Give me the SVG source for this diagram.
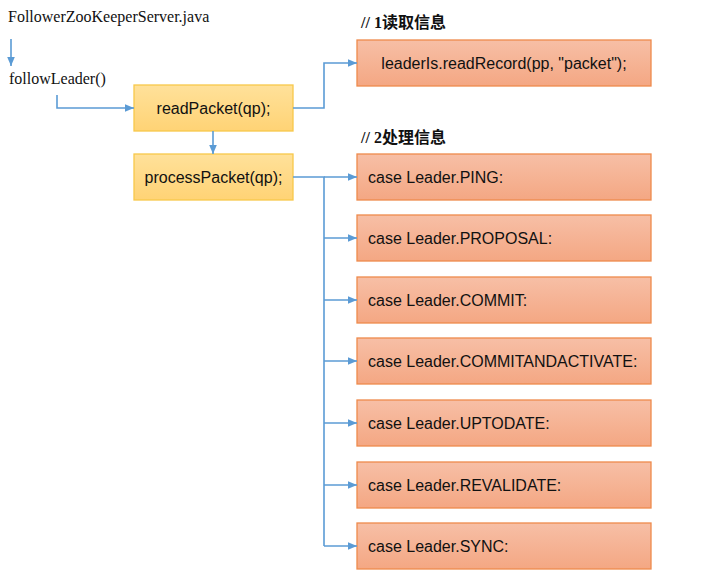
<svg xmlns="http://www.w3.org/2000/svg" width="706" height="576" viewBox="0 0 706 576">
  <defs>
    <linearGradient id="gYellow" x1="0" y1="0" x2="0" y2="1">
      <stop offset="0" stop-color="#FFE19A"/>
      <stop offset="1" stop-color="#FFD375"/>
    </linearGradient>
    <linearGradient id="gOrange" x1="0" y1="0" x2="0" y2="1">
      <stop offset="0" stop-color="#F7BFA6"/>
      <stop offset="1" stop-color="#F4A783"/>
    </linearGradient>
    <marker id="arrow" markerWidth="10" markerHeight="10" refX="9" refY="5" orient="auto" markerUnits="userSpaceOnUse">
      <path d="M0,1.2 L9,5 L0,8.8 Z" fill="#5B9BD5"/>
    </marker>
  </defs>
  <style>
    .yellow { fill: url(#gYellow); stroke: #F8C84A; stroke-width: 1.3; }
    .orange { fill: url(#gOrange); stroke: #EE8A4C; stroke-width: 1.3; }
    .lbl { font-family: "Liberation Sans", Arial, sans-serif; font-size: 16px; fill: #111; }
    .serif { font-family: "Liberation Serif", "Times New Roman", serif; font-size: 16px; fill: #111; }
    .note { font-family: "Liberation Serif", "Noto Sans CJK SC", serif; font-size: 16px; font-weight: bold; fill: #111; }
    .conn { fill: none; stroke: #5B9BD5; stroke-width: 1.6; }
  </style>
  <rect width="706" height="576" fill="#FFFFFF"/>

  <!-- plain text labels -->
  <g id="file">
    <text class="serif" x="8" y="22">FollowerZooKeeperServer.java</text>
  </g>
  <g id="followLeader">
    <text class="serif" x="9" y="84">followLeader()</text>
  </g>
  <g id="note1">
    <text class="note" x="361" y="28">// 1读取信息</text>
  </g>
  <g id="note2">
    <text class="note" x="361" y="143">// 2处理信息</text>
  </g>

  <!-- method boxes -->
  <g id="readPacket">
    <rect class="yellow" x="134" y="85" width="159" height="46"/>
    <text class="lbl" x="213.5" y="114" text-anchor="middle">readPacket(qp);</text>
  </g>
  <g id="processPacket">
    <rect class="yellow" x="134" y="154" width="159" height="46"/>
    <text class="lbl" x="213.5" y="183" text-anchor="middle">processPacket(qp);</text>
  </g>

  <g id="readRecord">
    <rect class="orange" x="357" y="40" width="294" height="46"/>
    <text class="lbl" x="504" y="69" text-anchor="middle">leaderIs.readRecord(pp, "packet");</text>
  </g>
  <g id="casePing">
    <rect class="orange" x="357" y="154" width="294" height="46"/>
    <text class="lbl" x="368" y="183">case Leader.PING:</text>
  </g>
  <g id="caseProposal">
    <rect class="orange" x="357" y="215" width="294" height="46"/>
    <text class="lbl" x="368" y="244">case Leader.PROPOSAL:</text>
  </g>
  <g id="caseCommit">
    <rect class="orange" x="357" y="277" width="294" height="46"/>
    <text class="lbl" x="368" y="306">case Leader.COMMIT:</text>
  </g>
  <g id="caseCommitAndActivate">
    <rect class="orange" x="357" y="338" width="294" height="46"/>
    <text class="lbl" x="368" y="367">case Leader.COMMITANDACTIVATE:</text>
  </g>
  <g id="caseUptodate">
    <rect class="orange" x="357" y="400" width="294" height="46"/>
    <text class="lbl" x="368" y="429">case Leader.UPTODATE:</text>
  </g>
  <g id="caseRevalidate">
    <rect class="orange" x="357" y="462" width="294" height="46"/>
    <text class="lbl" x="368" y="491">case Leader.REVALIDATE:</text>
  </g>
  <g id="caseSync">
    <rect class="orange" x="357" y="523" width="294" height="46"/>
    <text class="lbl" x="368" y="552">case Leader.SYNC:</text>
  </g>

  <!-- connectors -->
  <g id="connectors">
    <path class="conn" d="M11,39 V66" marker-end="url(#arrow)"/>
    <path class="conn" d="M57,95 V108 H134" marker-end="url(#arrow)"/>
    <path class="conn" d="M213,131 V154" marker-end="url(#arrow)"/>
    <path class="conn" d="M293,108 H324 V63 H357" marker-end="url(#arrow)"/>
    <path class="conn" d="M293,177 H324 V546"/>
    <path class="conn" d="M324,177 H357" marker-end="url(#arrow)"/>
    <path class="conn" d="M324,238 H357" marker-end="url(#arrow)"/>
    <path class="conn" d="M324,300 H357" marker-end="url(#arrow)"/>
    <path class="conn" d="M324,361 H357" marker-end="url(#arrow)"/>
    <path class="conn" d="M324,423 H357" marker-end="url(#arrow)"/>
    <path class="conn" d="M324,485 H357" marker-end="url(#arrow)"/>
    <path class="conn" d="M324,546 H357" marker-end="url(#arrow)"/>
  </g>
</svg>
